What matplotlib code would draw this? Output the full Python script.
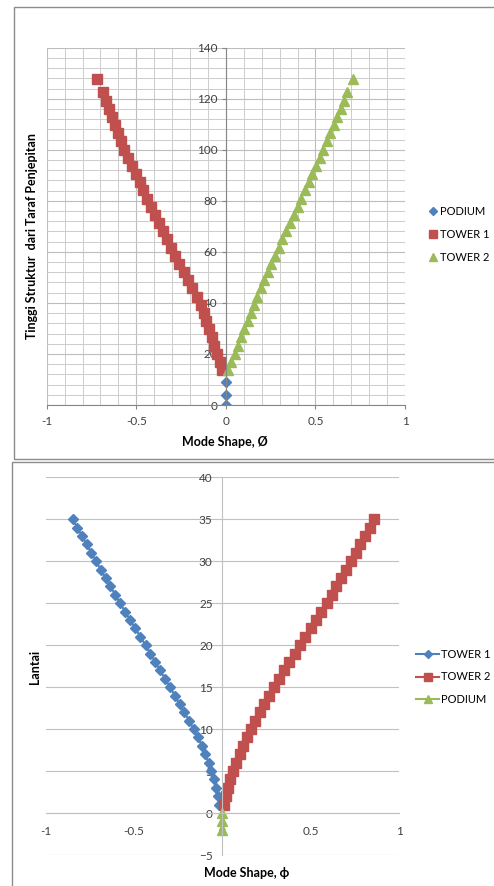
import matplotlib
matplotlib.use("Agg")
import matplotlib.pyplot as plt
from matplotlib.patches import Rectangle
from matplotlib.ticker import MultipleLocator

plt.rcParams['font.family'] = ['Lato', 'DejaVu Sans']

BLUE = '#4F81BD'
RED = '#C0504D'
GREEN = '#9BBB59'

# top chart: mode shape vs height (m)
podium_h = [0, 4, 9]
podium_phi = [0, 0, 0]

tower_h = [13.7, 16.9, 20.1, 23.3, 26.5, 29.7, 32.9, 36.1, 39.3, 42.5, 45.7, 48.9,
           52.1, 55.3, 58.5, 61.7, 64.9, 68.1, 71.3, 74.5, 77.7, 80.9, 84.1, 87.3,
           90.5, 93.7, 96.9, 100.1, 103.3, 106.5, 109.7, 112.9, 116.1, 119.3, 122.5, 127.7]
tower1_phi = [-0.022, -0.035, -0.050, -0.064, -0.079, -0.094, -0.109, -0.124, -0.140,
              -0.162, -0.187, -0.212, -0.236, -0.261, -0.286, -0.308, -0.330, -0.352,
              -0.373, -0.395, -0.416, -0.438, -0.460, -0.481, -0.503, -0.524, -0.545,
              -0.566, -0.584, -0.601, -0.619, -0.636, -0.653, -0.670, -0.688, -0.720]
tower2_phi = [0.012, 0.030, 0.050, 0.067, 0.085, 0.103, 0.121, 0.138, 0.156,
              0.175, 0.194, 0.213, 0.233, 0.253, 0.273, 0.294, 0.315, 0.336,
              0.357, 0.378, 0.400, 0.421, 0.442, 0.462, 0.483, 0.503, 0.524,
              0.545, 0.564, 0.583, 0.602, 0.621, 0.640, 0.659, 0.678, 0.712]

# bottom chart: mode shape vs floor (lantai)
floors = [1, 2, 3, 4, 5, 6, 7, 8, 9, 10, 11, 12, 13, 14, 15, 16, 17, 18,
          19, 20, 21, 22, 23, 24, 25, 26, 27, 28, 29, 30, 31, 32, 33, 34, 35]
t1_phi = [-0.017, -0.026, -0.037, -0.048, -0.062, -0.078, -0.096, -0.115, -0.138,
          -0.162, -0.188, -0.215, -0.242, -0.269, -0.296, -0.324, -0.352, -0.380,
          -0.408, -0.435, -0.464, -0.493, -0.522, -0.551, -0.579, -0.606, -0.634,
          -0.661, -0.688, -0.715, -0.741, -0.768, -0.794, -0.821, -0.847]
t2_phi = [0.010, 0.020, 0.032, 0.046, 0.062, 0.080, 0.099, 0.118, 0.139,
          0.161, 0.186, 0.212, 0.238, 0.265, 0.293, 0.322, 0.351, 0.380,
          0.410, 0.440, 0.470, 0.500, 0.531, 0.561, 0.591, 0.619, 0.646,
          0.674, 0.701, 0.728, 0.754, 0.781, 0.807, 0.834, 0.861]
pod_floors = [0, -1, -2]
pod_phi = [0, 0, 0]

W, H = 494, 886
fig = plt.figure(figsize=(W / 100, H / 100), dpi=100)


def rect(left, top, right, bottom):
    return [left / W, 1 - bottom / H, (right - left) / W, (bottom - top) / H]


# chart frames
fig.patches.append(Rectangle((13.5 / W, 1 - 459 / H), 1, (459 - 6.7) / H,
                             transform=fig.transFigure, fill=False,
                             edgecolor='#8c8c8c', lw=1))
fig.patches.append(Rectangle((11.7 / W, -0.1), 1, 0.1 + (886 - 462) / H,
                             transform=fig.transFigure, fill=False,
                             edgecolor='#8c8c8c', lw=1))

tick_color = '#404040'
tick_size = 8.5
title_size = 9

# ---- top chart
ax1 = fig.add_axes(rect(46.7, 47.7, 405, 405))
ax1.set_xlim(-1, 1)
ax1.set_ylim(0, 140)
ax1.xaxis.set_major_locator(MultipleLocator(0.5))
ax1.xaxis.set_minor_locator(MultipleLocator(0.1))
ax1.yaxis.set_major_locator(MultipleLocator(20))
ax1.yaxis.set_minor_locator(MultipleLocator(4))
ax1.grid(which='major', color='#bdbdbd', lw=0.8)
ax1.grid(which='minor', color='#cccccc', lw=0.7)
ax1.set_axisbelow(True)
for s in ['top', 'right']:
    ax1.spines[s].set_visible(False)
ax1.spines['left'].set_position(('data', 0))
ax1.spines['left'].set_color('#868686')
ax1.spines['bottom'].set_color('#868686')
ax1.tick_params(which='major', length=3, color='#868686', labelsize=tick_size,
                labelcolor=tick_color)
ax1.tick_params(axis='x', pad=5)
ax1.tick_params(axis='y', pad=3)
ax1.tick_params(which='minor', length=0)
ax1.set_xticks([-1, -0.5, 0, 0.5, 1])
ax1.set_xticklabels(['-1', '-0.5', '0', '0.5', '1'])

ax1.plot(podium_phi, podium_h, 'D', color=BLUE, ms=5.2, ls='none', label='PODIUM')
ax1.plot(tower1_phi, tower_h, 's', color=RED, ms=7.2, ls='none', label='TOWER 1')
ax1.plot(tower2_phi, tower_h, '^', color=GREEN, ms=7.2, ls='none', label='TOWER 2')

ax1.legend(loc='center left', bbox_to_anchor=(429 / W, 1 - 234.5 / H),
           bbox_transform=fig.transFigure, frameon=False, fontsize=8,
           handlelength=0.7, handletextpad=0.3, labelspacing=1.05,
           borderpad=0, borderaxespad=0, markerscale=0.8)

fig.text(225 / W, 1 - 442 / H, 'Mode Shape, Ø', ha='center', va='center',
         fontsize=title_size, fontweight='bold')
fig.text(32 / W, 1 - 236 / H, 'Tinggi Struktur  dari Taraf Penjepitan',
         ha='center', va='center', rotation=90, fontsize=title_size,
         fontweight='bold')

# ---- bottom chart
ax2 = fig.add_axes(rect(45.7, 477.3, 399, 855))
ax2.set_xlim(-1, 1)
ax2.set_ylim(-5, 40)
ax2.yaxis.set_major_locator(MultipleLocator(5))
ax2.set_xticks([-1, -0.5, 0, 0.5, 1])
ax2.set_xticklabels(['-1', '-0.5', '0', '0.5', '1'])
ax2.yaxis.grid(True, color='#c0c0c0', lw=0.8)
ax2.set_axisbelow(True)
for s in ['top', 'right']:
    ax2.spines[s].set_visible(False)
ax2.spines['left'].set_position(('data', 0))
ax2.spines['bottom'].set_position(('data', 0))
ax2.spines['left'].set_color('#c0c0c0')
ax2.spines['bottom'].set_color('#c0c0c0')
ax2.tick_params(length=0, labelsize=tick_size, labelcolor=tick_color)
ax2.tick_params(axis='x', pad=9)
ax2.tick_params(axis='y', pad=7)

ax2.plot(t1_phi, floors, '-D', color=BLUE, ms=5.6, lw=1.5, label='TOWER 1')
ax2.plot(t2_phi, floors, '-s', color=RED, ms=7.2, lw=1.5, label='TOWER 2')
ax2.plot(pod_phi, pod_floors, '-^', color=GREEN, ms=7, lw=1.5, label='PODIUM')

ax2.legend(loc='center left', bbox_to_anchor=(416 / W, 1 - 677 / H),
           bbox_transform=fig.transFigure, frameon=False, fontsize=8,
           handlelength=2.1, handletextpad=0.15, labelspacing=1.05,
           borderpad=0, borderaxespad=0, markerscale=0.8)

fig.text(246.7 / W, 1 - 873 / H, 'Mode Shape, ϕ', ha='center', va='center',
         fontsize=title_size, fontweight='bold')
fig.text(35 / W, 1 - 666.7 / H, 'Lantai', ha='center', va='center',
         rotation=90, fontsize=title_size, fontweight='bold')

fig.savefig('out.png', dpi=100)
